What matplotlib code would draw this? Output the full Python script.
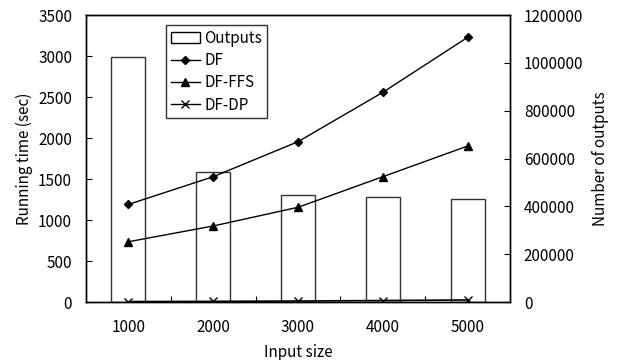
import matplotlib
matplotlib.use("Agg")
import matplotlib.pyplot as plt
from matplotlib.patches import Patch
from matplotlib.lines import Line2D

plt.rcParams['font.family'] = ['Noto Sans CJK JP', 'DejaVu Sans']

categories = ["1000", "2000", "3000", "4000", "5000"]
outputs = [1025000, 542000, 447000, 440000, 431000]
df = [1190, 1528, 1955, 2557, 3228]
df_ffs = [735, 927, 1155, 1528, 1902]
df_dp = [5, 8, 12, 18, 25]

left_ticks = [0, 500, 1000, 1500, 2000, 2500, 3000, 3500]
right_ticks = [0, 200000, 400000, 600000, 800000, 1000000, 1200000]

fig = plt.figure(figsize=(6.17, 3.6), dpi=100)
ax = fig.add_axes([0.1394, 0.1611, 0.6872, 0.7972])
ax2 = ax.twinx()

x = list(range(1, len(categories) + 1))
ax2.bar(x, outputs, width=0.4, facecolor='white', edgecolor='#333333', linewidth=1.0)
ax2.set_ylim(0, 1200000)
ax2.set_yticks(right_ticks)
ax2.set_yticklabels([str(v) for v in right_ticks])

ax.set_zorder(ax2.get_zorder() + 1)
ax.patch.set_visible(False)

ax.plot(x, df, color='black', lw=1.0, marker='D', ms=4.5)
ax.plot(x, df_ffs, color='black', lw=1.0, marker='^', ms=6)
ax.plot(x, df_dp, color='black', lw=1.2, marker='x', ms=6, mew=1.0)

ax.set_xlim(0.5, len(categories) + 0.5)
ax.set_ylim(0, 3500)
ax.set_yticks(left_ticks)
ax.set_yticklabels([str(v) for v in left_ticks])
ax.set_xticks(x)
ax.set_xticklabels(categories)
ax.set_xticks([i + 0.5 for i in x[:-1]], minor=True)

fs = 11
ax.tick_params(axis='x', which='major', length=0, labelsize=fs, pad=12)
ax.tick_params(axis='x', which='minor', direction='in', length=4, width=0.8)
ax.tick_params(axis='y', direction='in', length=4, width=0.8, labelsize=fs, pad=10)
ax2.tick_params(axis='y', direction='in', length=4, width=0.8, labelsize=fs, pad=10)

ax.set_xlabel("Input size", fontsize=fs, labelpad=6)
ax.set_ylabel("Running time (sec)", fontsize=fs, labelpad=4)
ax2.set_ylabel("Number of outputs", fontsize=fs, labelpad=6)

for a in (ax, ax2):
    for s in a.spines.values():
        s.set_color('black')
        s.set_linewidth(1.0)

handles = [
    Patch(facecolor='white', edgecolor='black', linewidth=1.0),
    Line2D([], [], color='black', lw=1.0, marker='D', ms=4.5),
    Line2D([], [], color='black', lw=1.0, marker='^', ms=6),
    Line2D([], [], color='black', lw=1.0, marker='x', ms=6),
]
labels = ["Outputs", "DF", "DF-FFS", "DF-DP"]
leg = ax.legend(handles, labels, loc='upper left', bbox_to_anchor=(0.189, 0.965),
                borderaxespad=0, fontsize=fs, frameon=True, fancybox=False,
                handlelength=1.9, handletextpad=0.3, labelspacing=0.35,
                borderpad=0.3)
leg.get_frame().set_edgecolor('black')
leg.get_frame().set_linewidth(1.0)

fig.savefig("out.png", dpi=100)
